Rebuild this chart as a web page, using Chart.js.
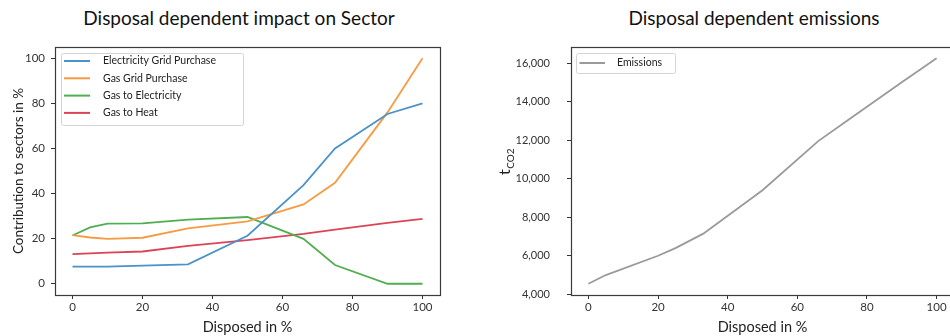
<!DOCTYPE html>
<html>
<head>
<meta charset="utf-8">
<script src="https://cdn.jsdelivr.net/npm/chart.js@4.4.1/dist/chart.umd.min.js"></script>
<style>
html,body{margin:0;padding:0;background:#fff;width:950px;height:336px;overflow:hidden;position:relative}
.ttl{position:absolute;top:7px;font:19px Lato,sans-serif;color:#111;line-height:22px;white-space:nowrap;transform:translateX(-50%)}
#c1{position:absolute;left:0;top:0}
#c2{position:absolute;left:475px;top:0}
</style>
</head>
<body>
<div class="ttl" style="left:239px">Disposal dependent impact on Sector</div>
<div class="ttl" style="left:754px">Disposal dependent emissions</div>
<canvas id="c1" width="475" height="336"></canvas>
<canvas id="c2" width="485" height="336"></canvas>
<script>
// left chart: share of each sector vs. disposed %
const disposed=[0,5,10,20,33,50,66,75,90,100];
const elecGrid=[7.6,7.6,7.6,8.0,8.6,21.3,43.7,60,75.3,80];
const gasGrid=[21.6,20.5,19.9,20.4,24.6,27.7,35.2,44.8,76,100];
const gasElec=[21.4,25,26.7,26.8,28.4,29.6,19.9,8.3,0,0];
const gasHeat=[13.1,13.5,13.8,14.3,16.8,19.3,22.1,24,27,28.8];
const sectorTicks=[0,20,40,60,80,100];

// right chart: emissions vs. disposed %
const emisX=[0,5,20,25,33,50,66,75,90,100];
const emissions=[4550,5000,6000,6400,7150,9400,11950,13100,15000,16250];
const emisTicks=[4000,6000,8000,10000,12000,14000,16000];
const xTicks=[0,20,40,60,80,100];

Chart.defaults.font.family='Lato, sans-serif';
Chart.defaults.color='#333';

const pts=(xs,ys)=>xs.map((x,i)=>({x:x,y:ys[i]}));
const fixTicks=arr=>s=>{s.ticks=arr.map(v=>({value:v}));};

// box round the plot area, like matplotlib spines
const framePlugin={
 id:'frame',
 afterDraw(chart){
  const {ctx,chartArea:a}=chart;
  ctx.save();
  ctx.strokeStyle='#3a3a3a';
  ctx.lineWidth=1.2;
  ctx.strokeRect(Math.round(a.left)+.5,Math.round(a.top)+.5,Math.round(a.right-a.left),Math.round(a.bottom-a.top));
  ctx.restore();
 }
};

// legend inside the plot, with short line samples and a light frame
const boxLegend={
 id:'boxLegend',
 afterDraw(chart,args,o){
  const {ctx,chartArea:a}=chart;
  const x=a.left+o.dx, y=a.top+o.dy;
  ctx.save();
  ctx.fillStyle='rgba(255,255,255,0.85)';
  ctx.strokeStyle='#d4d4d4';
  ctx.lineWidth=1;
  ctx.beginPath();
  ctx.roundRect(x+.5,y+.5,o.w,o.h,2);
  ctx.fill();ctx.stroke();
  ctx.font=o.font+'px Lato, sans-serif';
  ctx.textBaseline='middle';
  chart.data.datasets.forEach((ds,i)=>{
   const cy=y+o.first+i*o.row;
   ctx.strokeStyle=ds.borderColor;
   ctx.lineWidth=2;
   ctx.beginPath();ctx.moveTo(x+o.l0,cy);ctx.lineTo(x+o.l1,cy);ctx.stroke();
   ctx.fillStyle='#222';
   ctx.fillText(ds.label,x+o.tx,cy);
  });
  ctx.restore();
 }
};

// y title t_CO2 with subscript
const co2Title={
 id:'co2Title',
 afterDraw(chart,args,o){
  const {ctx,chartArea:a}=chart;
  ctx.save();
  ctx.translate(a.left+o.dx,o.y);
  ctx.rotate(-Math.PI/2);
  ctx.fillStyle='#222';
  ctx.textBaseline='alphabetic';
  ctx.font='16px Lato, sans-serif';
  ctx.fillText('t',0,0);
  const w=ctx.measureText('t').width;
  ctx.font='10px Lato, sans-serif';
  ctx.fillText('CO2',w+0.5,4);
  ctx.restore();
 }
};

const tickGrid={drawOnChartArea:false,drawTicks:true,tickLength:4,color:'#333'};

new Chart(document.getElementById('c1'),{
 type:'line',
 data:{datasets:[
  {label:'Electricity Grid Purchase',data:pts(disposed,elecGrid),borderColor:'#4a92c9'},
  {label:'Gas Grid Purchase',data:pts(disposed,gasGrid),borderColor:'#f79b42'},
  {label:'Gas to Electricity',data:pts(disposed,gasElec),borderColor:'#4fae4f'},
  {label:'Gas to Heat',data:pts(disposed,gasHeat),borderColor:'#db4456'}
 ]},
 options:{
  responsive:false,animation:false,
  layout:{padding:{top:47,right:35,left:0,bottom:0}},
  elements:{point:{radius:0},line:{borderWidth:1.8,tension:0}},
  plugins:{legend:{display:false},tooltip:{enabled:false},
   boxLegend:{dx:6,dy:6,w:182,h:72,first:8,row:17.3,l0:3,l1:29,tx:42,font:10.5}},
  scales:{
   x:{type:'linear',min:-5,max:105,afterBuildTicks:fixTicks(xTicks),
    afterFit(s){s.height=41;},
    grid:tickGrid,border:{display:false},
    ticks:{font:{size:11.5},padding:1,maxRotation:0},
    title:{display:true,text:'Disposed in %',font:{size:14.5},color:'#222',padding:{top:0,bottom:0}}},
   y:{type:'linear',min:-5,max:105,afterBuildTicks:fixTicks(sectorTicks),
    afterFit(s){s.width=55;},
    grid:tickGrid,border:{display:false},
    ticks:{font:{size:11.5},padding:6},
    title:{display:true,text:'Contribution to sectors in %',font:{size:13.5},color:'#222',padding:{top:11,bottom:0}}}
  }
 },
 plugins:[framePlugin,boxLegend]
});

new Chart(document.getElementById('c2'),{
 type:'line',
 data:{datasets:[
  {label:'Emissions',data:pts(emisX,emissions),borderColor:'#9a9a9a'}
 ]},
 options:{
  responsive:false,animation:false,
  layout:{padding:{top:47,right:6,left:0,bottom:0}},
  elements:{point:{radius:0},line:{borderWidth:1.8,tension:0}},
  plugins:{legend:{display:false},tooltip:{enabled:false},
   boxLegend:{dx:5,dy:6,w:99,h:20,first:10,row:17,l0:3.5,l1:29,tx:41,font:10.5},
   co2Title:{dx:-61,y:175}},
  scales:{
   x:{type:'linear',min:-5,max:105,afterBuildTicks:fixTicks(xTicks),
    afterFit(s){s.height=41;},
    grid:tickGrid,border:{display:false},
    ticks:{font:{size:11.5},padding:1,maxRotation:0},
    title:{display:true,text:'Disposed in %',font:{size:14.5},color:'#222',padding:{top:0,bottom:0}}},
   y:{type:'linear',min:3965,max:16835,afterBuildTicks:fixTicks(emisTicks),
    afterFit(s){s.width=96;},
    grid:tickGrid,border:{display:false},
    ticks:{font:{size:11},padding:17}}
  }
 },
 plugins:[framePlugin,boxLegend,co2Title]
});
</script>
</body>
</html>
